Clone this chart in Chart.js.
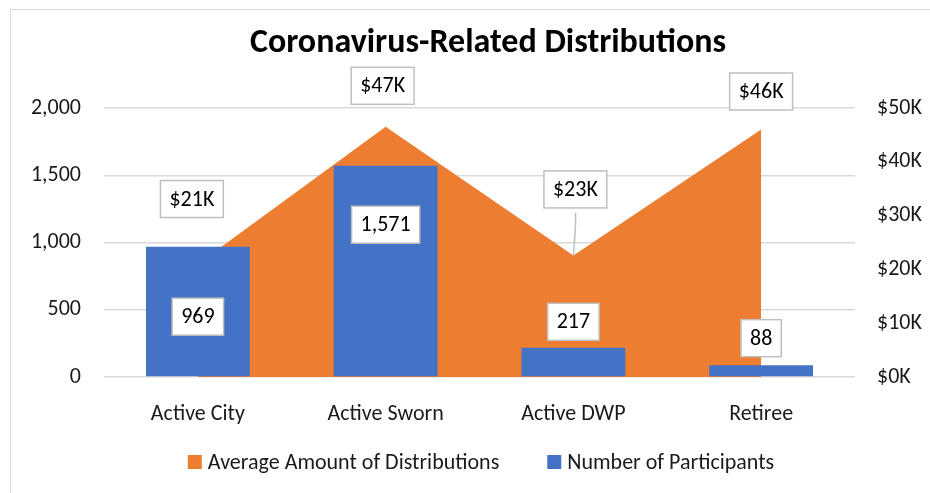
<!DOCTYPE html>
<html>
<head>
<meta charset="utf-8">
<script src="https://cdn.jsdelivr.net/npm/chart.js@4.4.1/dist/chart.umd.min.js"></script>
<style>
  body { margin: 0; background: #fff; }
  #wrap { width: 930px; height: 493px; position: relative; }
</style>
</head>
<body>
<div id="wrap"><canvas id="distChart"></canvas></div>
<script>
// data
const categories = ["Active City", "Active Sworn", "Active DWP", "Retiree"];
const avgAmount = [21000, 46500, 22600, 46000];
const participants = [969, 1571, 217, 88];
const leftTicks = [0, 500, 1000, 1500, 2000];
const rightTicks = [0, 10000, 20000, 30000, 40000, 50000];

// where the boxed labels sit relative to their point / bar top (px)
const amountShift = [[-6, -65], [-3, -41], [2, -66], [0, -38]];
const countShift = [[0, 70], [0, 59], [0, -26], [0, -27]];
const amountLeader = [false, false, true, false];

const FONT = "Carlito, Lato, 'Open Sans', sans-serif";
const FS = 22;
const INK = "#1a1a1a";

const fmtMoney = v => "$" + Math.round(v / 1000) + "K";
const fmtCount = v => v.toLocaleString("en-US");

const chartDeco = {
  id: "chartDeco",
  beforeDraw(chart) {
    const ctx = chart.ctx;
    ctx.save();
    ctx.fillStyle = "#fff";
    ctx.fillRect(0, 0, chart.width, chart.height);
    ctx.strokeStyle = "#d9d9d9";
    ctx.lineWidth = 1;
    ctx.strokeRect(10.5, 9.5, 1000, 1000);
    // title
    ctx.fillStyle = "#000";
    ctx.font = "bold 34px " + FONT;
    ctx.textAlign = "center";
    ctx.textBaseline = "middle";
    ctx.fillText("Coronavirus-Related Distributions", 488, 43);
    ctx.restore();
  },
  afterDraw(chart) {
    // legend
    const ctx = chart.ctx;
    ctx.save();
    ctx.font = FS + "px " + FONT;
    ctx.textBaseline = "middle";
    ctx.textAlign = "left";
    const items = chart.data.datasets.map(d => ({ text: d.label, color: d.backgroundColor }));
    const box = 14, gapBox = 6, gapItem = 48, y = 462;
    let total = 0;
    items.forEach((it, i) => {
      it.w = ctx.measureText(it.text).width;
      total += box + gapBox + it.w + (i ? gapItem : 0);
    });
    let x = 481 - total / 2;
    items.forEach((it, i) => {
      if (i) x += gapItem;
      ctx.fillStyle = it.color;
      ctx.fillRect(x, y - box / 2, box, box);
      x += box + gapBox;
      ctx.fillStyle = INK;
      ctx.fillText(it.text, x, y + 1);
      x += it.w;
    });
    ctx.restore();
  }
};

const boxLabels = {
  id: "boxLabels",
  afterDatasetsDraw(chart) {
    const ctx = chart.ctx;
    ctx.save();
    ctx.font = FS + "px " + FONT;
    ctx.textAlign = "center";
    ctx.textBaseline = "middle";
    chart.data.datasets.forEach((ds, di) => {
      const meta = chart.getDatasetMeta(di);
      const shift = ds.type === "line" ? amountShift : countShift;
      const fmt = ds.type === "line" ? fmtMoney : fmtCount;
      meta.data.forEach((el, i) => {
        const cx = el.x + shift[i][0];
        const cy = el.y + shift[i][1];
        const txt = fmt(ds.data[i]);
        const w = ctx.measureText(txt).width + 18;
        const h = 37;
        if (ds.type === "line" && amountLeader[i]) {
          ctx.strokeStyle = "#bfbfbf";
          ctx.lineWidth = 1.5;
          ctx.beginPath();
          ctx.moveTo(cx, cy + h / 2 + 5);
          ctx.quadraticCurveTo(cx + 1, cy + h / 2 + 12, el.x, el.y);
          ctx.stroke();
        }
        ctx.fillStyle = "#fff";
        ctx.fillRect(cx - w / 2, cy - h / 2, w, h);
        ctx.strokeStyle = "#bfbfbf";
        ctx.lineWidth = 1.5;
        ctx.strokeRect(cx - w / 2, cy - h / 2, w, h);
        ctx.fillStyle = "#000";
        ctx.fillText(txt, cx, cy + 1);
      });
    });
    ctx.restore();
  }
};

new Chart(document.getElementById("distChart"), {
  type: "bar",
  data: {
    labels: categories,
    datasets: [
      {
        type: "line",
        label: "Average Amount of Distributions",
        data: avgAmount,
        yAxisID: "y1",
        backgroundColor: "#ED7D31",
        borderWidth: 0,
        pointRadius: 0,
        fill: "origin",
        tension: 0,
        order: 2
      },
      {
        type: "bar",
        label: "Number of Participants",
        data: participants,
        yAxisID: "y",
        backgroundColor: "#4472C4",
        categoryPercentage: 1,
        barPercentage: 0.553,
        order: 1
      }
    ]
  },
  options: {
    responsive: true,
    maintainAspectRatio: false,
    animation: false,
    layout: { padding: { top: 108, bottom: 61, left: 0, right: 0 } },
    plugins: {
      legend: { display: false },
      title: { display: false },
      tooltip: { enabled: false }
    },
    scales: {
      x: {
        grid: { display: false },
        border: { display: false },
        ticks: { color: INK, font: { family: FONT, size: FS }, padding: 16 },
        afterFit: s => { s.height = 55; }
      },
      y: {
        position: "left",
        min: 0,
        max: 2000,
        afterBuildTicks: s => { s.ticks = leftTicks.map(v => ({ value: v })); },
        grid: { color: "#d9d9d9", lineWidth: 1.5, drawTicks: false },
        border: { display: false },
        ticks: {
          color: INK,
          font: { family: FONT, size: FS },
          padding: 23,
          callback: v => v.toLocaleString("en-US")
        },
        afterFit: s => { s.width = 104; }
      },
      y1: {
        position: "right",
        min: 0,
        max: 50000,
        afterBuildTicks: s => { s.ticks = rightTicks.map(v => ({ value: v })); },
        grid: { display: false, drawTicks: false },
        border: { display: false },
        ticks: {
          color: INK,
          font: { family: FONT, size: FS },
          padding: 22,
          callback: v => fmtMoney(v)
        },
        afterFit: s => { s.width = 75; }
      }
    }
  },
  plugins: [chartDeco, boxLabels]
});
</script>
</body>
</html>
